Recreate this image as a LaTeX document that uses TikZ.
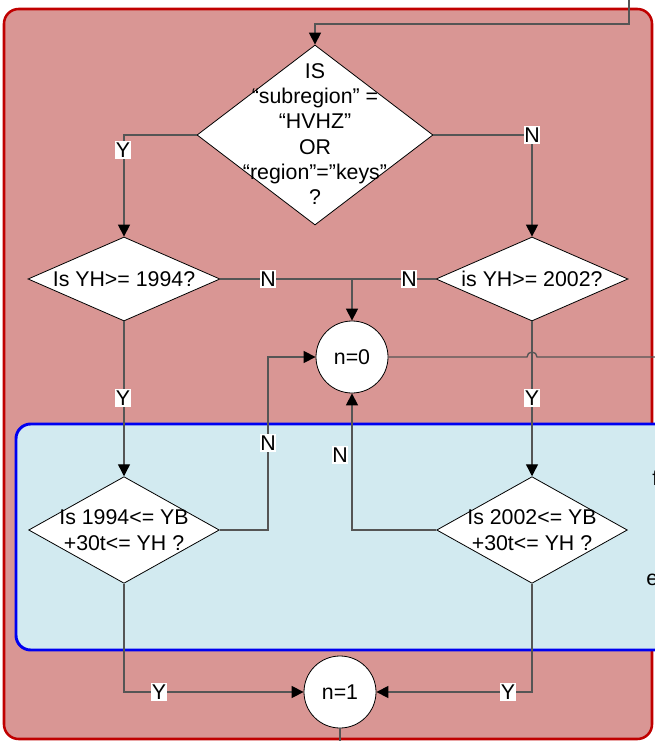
\documentclass[tikz,border=0pt]{standalone}
\usepackage{fontspec}
\setmainfont{Liberation Sans}
\usetikzlibrary{shapes.geometric,arrows.meta}
\definecolor{redfill}{RGB}{217,150,148}
\definecolor{redline}{RGB}{192,0,0}
\definecolor{bluefill}{RGB}{210,234,240}
\definecolor{blueline}{RGB}{0,0,240}
\definecolor{lncol}{RGB}{85,85,85}
\begin{document}
\begin{tikzpicture}[x=0.75pt,y=-0.75pt,
  dia/.style={diamond,draw=black,fill=white,line width=0.6pt,inner sep=0pt},
  circ/.style={circle,draw=black,fill=white,line width=0.6pt,minimum size=54pt,inner sep=0pt,font=\fontsize{16}{19}\selectfont},
  txt/.style={align=center,font=\fontsize{16}{19}\selectfont,inner sep=0pt},
  lbl/.style={fill=white,inner xsep=0.3pt,inner ysep=1pt,font=\fontsize{16}{19}\selectfont},
  wire/.style={draw=lncol,line width=1pt},
  arr/.style={wire,-{Triangle[length=9pt,width=9pt,color=black]}}
]
\useasboundingbox (0,0) rectangle (655,741);
\clip (0,0) rectangle (655,741);
% containers
\draw[redline,fill=redfill,line width=1.9pt,rounded corners=11pt] (4,9) rectangle (652,739);
\draw[blueline,fill=bluefill,line width=2.2pt,rounded corners=11pt] (16,424) rectangle (720,650);
% nodes
\node[dia,minimum width=177pt,minimum height=135pt] (d1) at (315,135) {};
\node[txt] (t1) at (315,134) {IS\\“subregion” =\\“HVHZ”\\OR\\“region”=”keys”\\?};
\node[dia,minimum width=144pt,minimum height=63pt] (d2) at (124,279) {};
\node[txt] (t2) at (124,279) {Is YH>= 1994?};
\node[dia,minimum width=144pt,minimum height=63pt] (d3) at (532,279) {};
\node[txt] (t3) at (532,279) {is YH>= 2002?};
\node[dia,minimum width=143pt,minimum height=80pt] (d4) at (124,530) {};
\node[txt] (t4) at (124,530) {Is 1994<= YB\\+30t<= YH ?};
\node[dia,minimum width=143pt,minimum height=80pt] (d5) at (532,530) {};
\node[txt] (t5) at (532,530) {Is 2002<= YB\\+30t<= YH ?};
\node[circ] (n0) at (352,357) {n=0};
\node[circ] (n1) at (340,692) {n=1};
\node[txt,anchor=west] (fr1) at (652,478) {f};
\node[txt,anchor=west] (fr2) at (646,580) {e};
% outside ends
\coordinate (topin) at (629,-5);
\coordinate (rout) at (680,357);
\coordinate (bout) at (340,760);
% connectors
\draw[arr] (topin) -- (629,24) -| (d1.north);
\draw[arr] (d1.west) -| (d2.north);
\draw[arr] (d1.east) -| (d3.north);
\draw[wire] (d2.east) -- (d3.west);
\draw[arr] (n0.north |- d2.east) -- (n0.north);
\draw[arr] (d2.south) -- (d4.north);
\draw[arr] (d3.south) -- (d5.north);
\draw[arr] (d4.east) -- (268,530) |- (n0.west);
\draw[arr] (d5.west) -| (n0.south);
\draw[arr] (d4.south) |- (n1.west);
\draw[arr] (d5.south) |- (n1.east);
\draw[wire] (n0.east) -- (527,357) arc[start angle=180,end angle=0,radius=3.75pt] -- (rout);
\draw[wire] (n1.south) -- (bout);
% labels
\node[lbl] (l1) at (123,150) {Y};
\node[lbl] (l2) at (532,135) {N};
\node[lbl] (l3) at (268,279) {N};
\node[lbl] (l4) at (409,279) {N};
\node[lbl] (l5) at (123,398) {Y};
\node[lbl] (l6) at (532,398) {Y};
\node[lbl] (l7) at (268,443) {N};
\node[lbl] (l8) at (340,455) {N};
\node[lbl] (l9) at (159,692) {Y};
\node[lbl] (l10) at (508,692) {Y};
\end{tikzpicture}
\end{document}
